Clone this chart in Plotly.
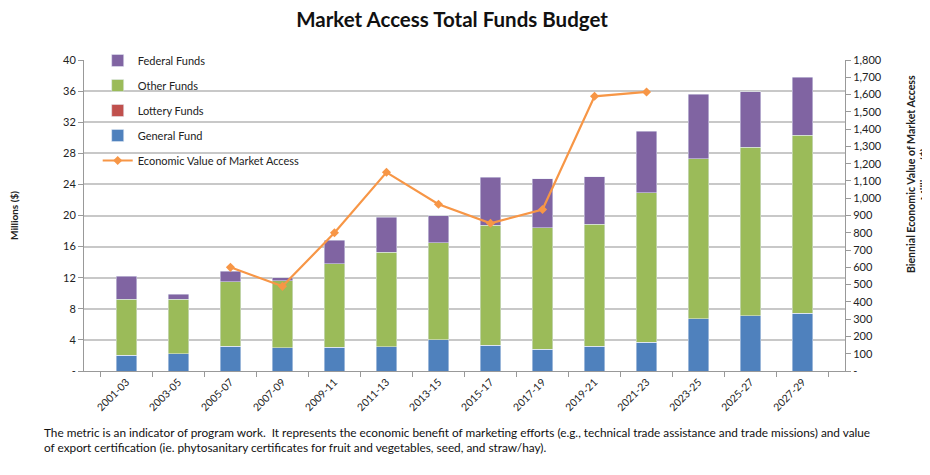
import plotly.graph_objects as go

periods = ["2001-03", "2003-05", "2005-07", "2007-09", "2009-11", "2011-13", "2013-15",
           "2015-17", "2017-19", "2019-21", "2021-23", "2023-25", "2025-27", "2027-29"]
general_fund = [2.0, 2.2, 3.2, 3.0, 3.05, 3.1, 4.0, 3.3, 2.8, 3.2, 3.7, 6.75, 7.1, 7.4]
lottery_funds = [0, 0, 0, 0, 0, 0, 0, 0, 0, 0, 0, 0, 0, 0]
other_funds = [7.2, 7.0, 8.3, 8.6, 10.75, 12.2, 12.5, 15.45, 15.65, 15.7, 19.2, 20.55, 21.7, 22.9]
federal_funds = [3.0, 0.7, 1.3, 0.4, 3.0, 4.5, 3.5, 6.15, 6.25, 6.1, 7.95, 8.3, 7.1, 7.5]
economic_value = [None, None, 600, 490, 800, 1150, 965, 855, 935, 1590, 1615, None, None, None]

left_ticks = [0, 4, 8, 12, 16, 20, 24, 28, 32, 36, 40]
left_ticktext = ["-"] + [str(v) for v in left_ticks[1:]]
right_ticks = list(range(0, 1900, 100))
right_ticktext = ["-"] + [f"{v:,}" for v in right_ticks[1:]]

FONT = "Lato"
fig = go.Figure()
bw = 0.39
fig.add_trace(go.Bar(name="General Fund", x=periods, y=general_fund, marker_color="#4F81BD",
                     width=bw, legendrank=4, legendgroup="g4"))
fig.add_trace(go.Bar(name="Lottery Funds", x=periods, y=lottery_funds, marker_color="#C0504D",
                     width=bw, legendrank=3, legendgroup="g3"))
fig.add_trace(go.Bar(name="Other Funds", x=periods, y=other_funds, marker_color="#9BBB59",
                     width=bw, legendrank=2, legendgroup="g2"))
fig.add_trace(go.Bar(name="Federal Funds", x=periods, y=federal_funds, marker_color="#8064A2",
                     width=bw, legendrank=1, legendgroup="g1"))
fig.add_trace(go.Scatter(name="Economic Value of Market Access", x=periods, y=economic_value,
                         yaxis="y2", mode="lines+markers", line=dict(color="#F79646", width=2.2),
                         marker=dict(symbol="diamond", size=7, color="#F79646"),
                         legendrank=5, legendgroup="g5"))

fig.update_layout(
    width=922, height=467,
    barmode="stack",
    paper_bgcolor="white", plot_bgcolor="white",
    margin=dict(l=76, r=85, t=52, b=104, autoexpand=False),
    font=dict(family=FONT, size=11, color="#222"),
    title=dict(text="<b>Market Access Total Funds Budget</b>", x=0.4816, xanchor="center",
               y=0.974, yref="container", yanchor="middle",
               font=dict(family=FONT, size=20.5, color="#111")),
    xaxis=dict(type="category", tickangle=-45, tickson="boundaries", ticks="outside",
               ticklen=5, tickcolor="#999", showline=True, linecolor="#999", linewidth=1,
               tickfont=dict(size=10.5), showgrid=False),
    yaxis=dict(range=[0, 40], tickvals=left_ticks, ticktext=left_ticktext, showgrid=True,
               gridcolor="#c8c8c8", gridwidth=1.5, showline=True, linecolor="#999",
               ticks="outside", ticklen=5, tickcolor="#999", zeroline=False,
               tickfont=dict(size=11),
               title=dict(text="<b>Millions ($)</b>", font=dict(size=10), standoff=46)),
    yaxis2=dict(range=[0, 1800], tickvals=right_ticks, ticktext=right_ticktext, overlaying="y",
                side="right", showgrid=False, showline=True, linecolor="#999", ticks="outside",
                ticklen=5, tickcolor="#999", zeroline=False, tickfont=dict(size=11)),
    legend=dict(x=0.018, y=1.045, xanchor="left", yanchor="top", bgcolor="rgba(0,0,0,0)",
                font=dict(size=11), tracegroupgap=6, itemwidth=30),
    showlegend=True,
)

fig.add_annotation(text="<b>Biennial Economic Value of Market Access<br>Millions ($)</b>",
                   xref="paper", yref="paper", x=1.0959, y=0.633, textangle=-90,
                   showarrow=False, font=dict(size=10.6), xanchor="center", yanchor="middle",
                   align="center")
fig.add_annotation(text="The metric is an indicator of program work.  It represents the economic benefit of marketing efforts (e.g., technical trade assistance and trade missions) and value<br>of export certification (ie. phytosanitary certificates for fruit and vegetables, seed, and straw/hay).",
                   xref="paper", yref="paper", x=-0.055, y=-0.168, xanchor="left", yanchor="top",
                   align="left", showarrow=False, font=dict(size=11.8, family=FONT, color="#111"))

fig.write_html("out.html")
